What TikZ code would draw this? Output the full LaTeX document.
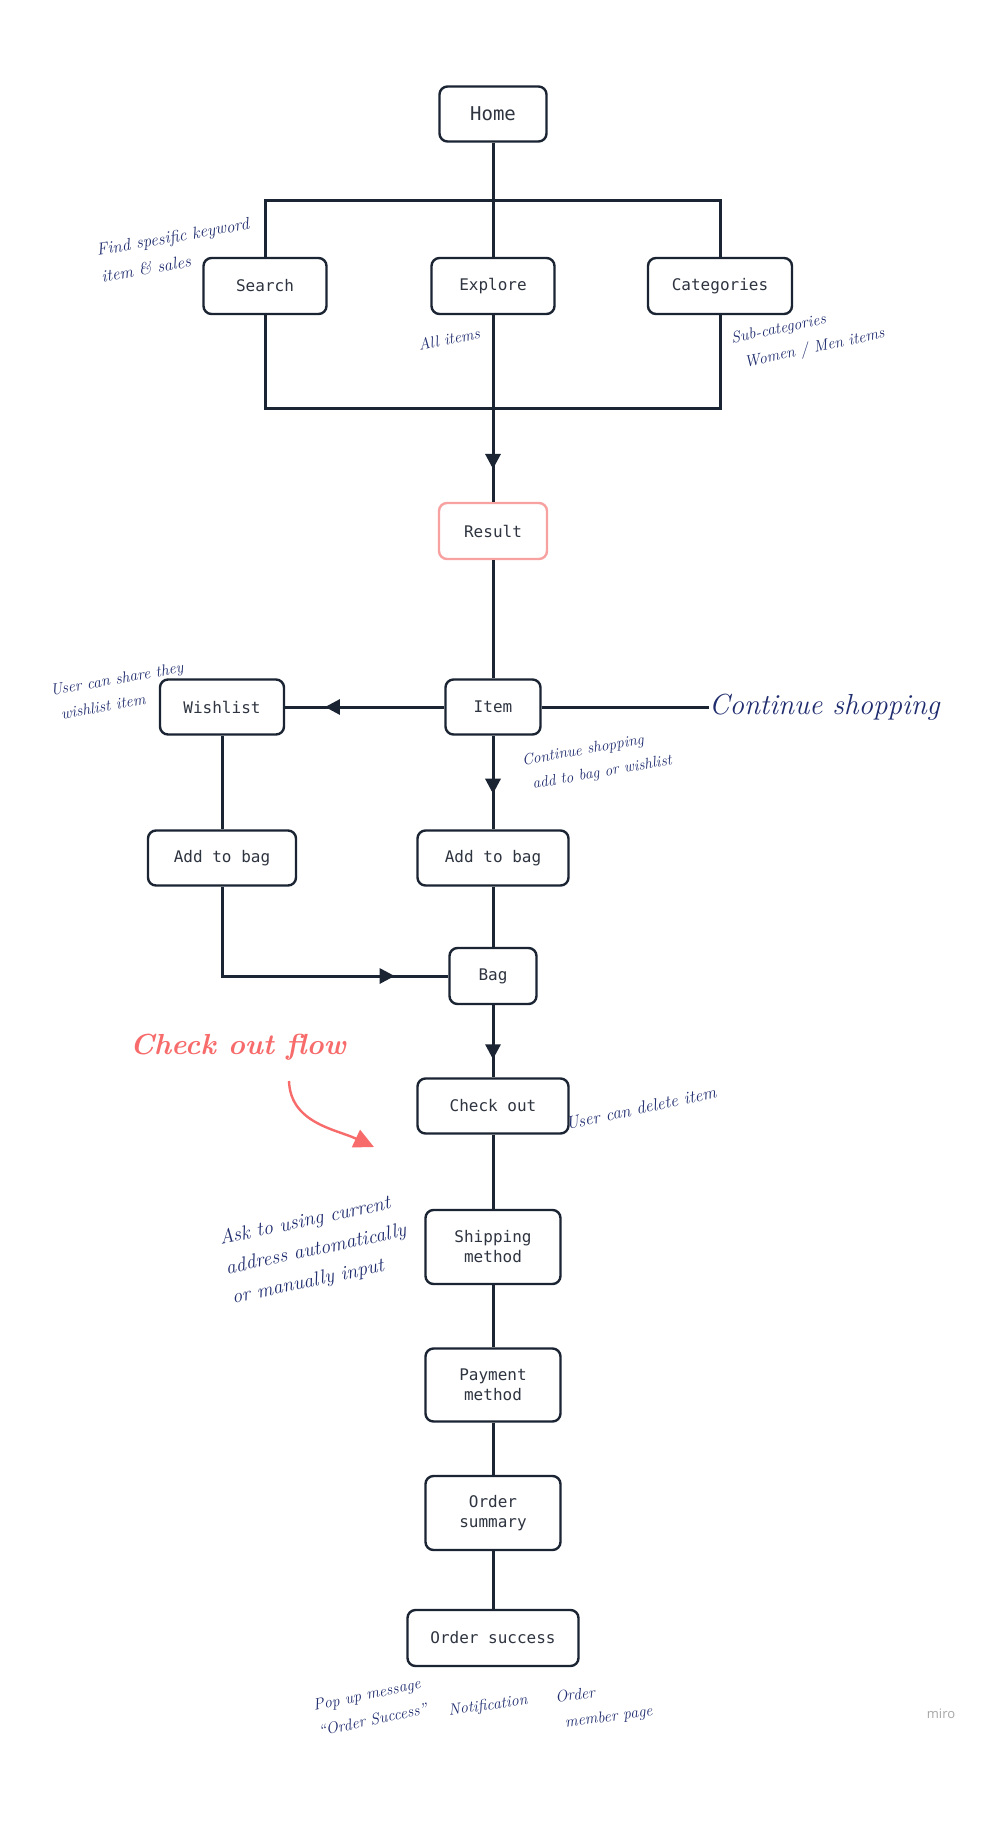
\documentclass[tikz,border=0pt]{standalone}
\usepackage{fontspec}
\setmonofont{DejaVu Sans Mono}
\newfontfamily\miroFont{Open Sans}
\usetikzlibrary{arrows.meta,decorations.markings}
\definecolor{ink}{HTML}{1B2433}
\definecolor{boxtext}{HTML}{2E3440}
\definecolor{note}{HTML}{1F2C6E}
\definecolor{salmon}{HTML}{F76B6B}
\definecolor{resultpink}{HTML}{F7A1A1}
\tikzset{
  x=1pt, y=-1pt,
  box/.style={draw=ink, line width=2.4pt, rounded corners=8pt, fill=white,
    font=\ttfamily\fontsize{16}{20}\selectfont, text=boxtext, align=center,
    inner sep=0pt},
  conn/.style={draw=ink, line width=3pt},
  tipmark/.style={postaction={decorate}, decoration={markings,
    mark=at position #1 with {\arrow{Triangle[length=15pt,width=15pt]}}}},
  notetext/.style={text=note, font=\itshape\fontsize{16}{26}\selectfont, align=left, inner sep=0pt},
}
\begin{document}
\begin{tikzpicture}
\useasboundingbox (0,0) rectangle (1004,1823);
\fill[white] (0,0) rectangle (1004,1823);

% nodes
\node[box, minimum width=107pt, minimum height=55pt, font=\ttfamily\fontsize{19}{22}\selectfont] (home) at (493,114) {Home};
\node[box, minimum width=123pt, minimum height=56pt] (search) at (265,286) {Search};
\node[box, minimum width=123pt, minimum height=56pt] (explore) at (493,286) {Explore};
\node[box, minimum width=144pt, minimum height=56pt] (cat) at (720,286) {Categories};
\node[box, draw=resultpink, minimum width=108pt, minimum height=56pt] (result) at (493,531) {Result};
\node[box, minimum width=95pt, minimum height=55pt] (item) at (493,707) {Item};
\node[box, minimum width=124pt, minimum height=55pt] (wish) at (222,707) {Wishlist};
\node[box, minimum width=148pt, minimum height=55pt] (addl) at (222,858) {Add to bag};
\node[box, minimum width=151pt, minimum height=55pt] (addr) at (493,858) {Add to bag};
\node[box, minimum width=87pt, minimum height=56pt] (bag) at (493,976) {Bag};
\node[box, minimum width=151pt, minimum height=55pt] (checkout) at (493,1106) {Check out};
\node[box, minimum width=135pt, minimum height=74pt] (ship) at (493,1247) {Shipping\\method};
\node[box, minimum width=135pt, minimum height=73pt] (pay) at (493,1385) {Payment\\method};
\node[box, minimum width=135pt, minimum height=74pt] (summ) at (493,1513) {Order\\summary};
\node[box, minimum width=171pt, minimum height=56pt] (succ) at (493,1638) {Order success};

\node[anchor=west, text=note, font=\itshape\fontsize{29}{32}\selectfont, inner sep=0pt] (cs) at (709,707) {Continue shopping};

% coordinates for bars
\coordinate (tl) at (265,200);
\coordinate (tr) at (720,200);
\coordinate (bl) at (265,408);
\coordinate (br) at (720,408);
\coordinate (bm) at (493,408);

% connectors
\draw[conn] (home.south) -- (explore.north);
\draw[conn, line join=miter] (search.north) -- (tl) -- (tr) -- (cat.north);
\draw[conn, line join=miter] (search.south) -- (bl) -- (br) -- (cat.south);
\draw[conn] (explore.south) -- (bm);
\draw[conn, tipmark=0.65] (bm) -- (result.north);
\draw[conn] (result.south) -- (item.north);
\draw[conn, tipmark=0.75] (item.west) -- (wish.east);
\draw[conn] (item.east) -- (cs.west);
\draw[conn, tipmark=0.62] (item.south) -- (addr.north);
\draw[conn] (wish.south) -- (addl.north);
\draw[conn] (addr.south) -- (bag.north);
\draw[conn, line join=miter, tipmark=0.83] (addl.south) |- (bag.west);
\draw[conn, tipmark=0.75] (bag.south) -- (checkout.north);
\draw[conn] (checkout.south) -- (ship.north);
\draw[conn] (ship.south) -- (pay.north);
\draw[conn] (pay.south) -- (summ.north);
\draw[conn] (summ.south) -- (succ.north);

% annotations
\node[notetext, rotate=10, font=\itshape\fontsize{17}{27}\selectfont] (n1) at (175,250) {Find spesific keyword\\item \& sales};
\node[notetext, rotate=12] (n2) at (449,339) {All items};
\node[notetext, rotate=12] (n3) at (808,337) {Sub-categories\\\hspace*{8pt}Women / Men items};
\node[notetext, rotate=10, font=\itshape\fontsize{16}{25}\selectfont] (n4) at (119,691) {User can share they\\\hspace*{6pt}wishlist item};
\node[notetext, rotate=10, font=\itshape\fontsize{15.5}{25}\selectfont] (n5) at (597,761) {Continue shopping\\\hspace*{6pt}add to bag or wishlist};
\node[notetext, rotate=12, font=\itshape\fontsize{17.5}{22}\selectfont] (n6) at (641,1108) {User can delete item};
\node[notetext, rotate=12, font=\itshape\fontsize{20}{30}\selectfont] (n7) at (316,1250) {Ask to using current\\address automatically\\or manually input};
\node[notetext, rotate=12] (n8) at (370,1707) {Pop up message\\``Order Success''};
\node[notetext, rotate=8] (n9) at (488,1706) {Notification};
\node[notetext, rotate=8] (n10) at (604,1705) {Order\\\hspace*{6pt}member page};

% check out flow
\node[text=salmon, font=\bfseries\itshape\fontsize{29}{32}\selectfont, inner sep=0pt] (cof) at (238,1047) {Check out flow};
\coordinate (pa) at (289,1081);
\coordinate (pb) at (374,1147);
\draw[salmon, line width=2.4pt, -{Triangle[length=20pt,width=19pt]}] (pa) to[out=-88, in=155] (pb);

% watermark
\node[text=black!35, font=\miroFont\fontsize{13}{15}\selectfont, inner sep=0pt] (miro) at (941,1714) {miro};
\end{tikzpicture}
\end{document}
